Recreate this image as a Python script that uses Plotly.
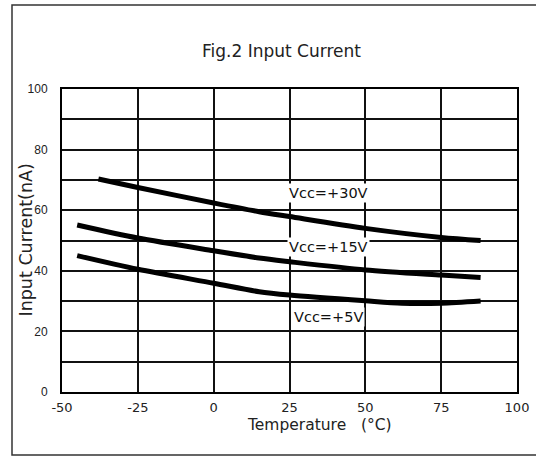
import plotly.graph_objects as go

# Data
temp_30 = [-38, -25, 0, 15, 25, 50, 75, 88]
cur_30 = [70.3, 67.5, 62.4, 59.5, 57.9, 54.0, 51.0, 50.0]

temp_15 = [-45, -25, 0, 15, 25, 50, 75, 88]
cur_15 = [55.1, 50.8, 46.6, 44.2, 43.0, 40.3, 38.6, 37.8]

temp_5 = [-45, -25, 0, 15, 25, 50, 62, 75, 88]
cur_5 = [45.0, 40.5, 35.9, 33.1, 32.0, 30.1, 29.3, 29.3, 30.0]

series = [
    ("Vcc=+30V", temp_30, cur_30, 37.7, 65.7),
    ("Vcc=+15V", temp_15, cur_15, 38.0, 47.7),
    ("Vcc=+5V", temp_5, cur_5, 37.7, 24.8),
]

x_ticks = [-50, -25, 0, 25, 50, 75, 100]
y_ticks = [0, 20, 40, 60, 80, 100]

SANS = "Liberation Sans, Arial, sans-serif"
WIDE = "DejaVu Sans, Verdana, sans-serif"

fig = go.Figure()
for name, xs, ys, lx, ly in series:
    fig.add_trace(go.Scatter(
        x=xs, y=ys, mode="lines", name=name,
        line=dict(color="black", width=5, shape="spline", smoothing=0.8),
        showlegend=False, hoverinfo="skip",
    ))
    fig.add_annotation(
        x=lx, y=ly, xref="x", yref="y", text=name, showarrow=False,
        xanchor="center", yanchor="middle",
        font=dict(family=WIDE, size=14.5, color="#111"),
        bgcolor="white",
    )

W, H = 536, 457
L, R, T, B = 62, 19, 89, 65
pw, ph = W - L - R, H - T - B

def px_to_paper_x(px):
    return (px - L) / pw

def px_to_paper_y(py):
    return (H - B - py) / ph

# outer frame
fig.add_shape(type="rect", xref="paper", yref="paper",
              x0=px_to_paper_x(12), x1=px_to_paper_x(545),
              y0=px_to_paper_y(455), y1=px_to_paper_y(5),
              line=dict(color="#333", width=1.5), layer="below")

fig.add_annotation(
    x=px_to_paper_x(281), y=px_to_paper_y(51), xref="paper", yref="paper",
    xanchor="center", yanchor="middle",
    text="Fig.2 Input Current", showarrow=False,
    font=dict(family=WIDE, size=17, color="#222"),
)
fig.add_annotation(
    x=px_to_paper_x(25), y=0.5, xref="paper", yref="paper",
    xanchor="center", yanchor="middle",
    text="Input Current(nA)", showarrow=False, textangle=-90,
    font=dict(family=WIDE, size=17.5, color="#222"),
)
fig.add_annotation(
    x=px_to_paper_x(319), y=px_to_paper_y(425), xref="paper", yref="paper",
    xanchor="center", yanchor="middle",
    text="Temperature &nbsp;&nbsp;(°C)", showarrow=False,
    font=dict(family=WIDE, size=15.5, color="#222"),
)

fig.update_xaxes(
    range=[-50, 100], tickvals=x_ticks, ticktext=[str(v) for v in x_ticks],
    showgrid=True, gridcolor="#111", gridwidth=1.5,
    showline=True, linecolor="black", linewidth=2, mirror=True,
    zeroline=False, ticks="", ticklabelstandoff=2,
    tickfont=dict(family=WIDE, size=13, color="#222"),
    fixedrange=True,
)
fig.update_yaxes(
    range=[0, 100], tickvals=y_ticks, ticktext=[str(v) for v in y_ticks],
    showgrid=True, gridcolor="#111", gridwidth=1.5,
    showline=True, linecolor="black", linewidth=2, mirror=True,
    zeroline=False, ticks="", ticklabelstandoff=10,
    tickfont=dict(family=SANS, size=12, color="#222"),
    minor=dict(dtick=10, tick0=0, showgrid=True, gridcolor="#111", gridwidth=1.5),
    fixedrange=True,
)

fig.update_layout(
    width=W, height=H,
    margin=dict(l=L, r=R, t=T, b=B, autoexpand=False),
    paper_bgcolor="white", plot_bgcolor="white",
    showlegend=False,
)

fig.write_html("out.html", config={"displayModeBar": False},
               post_script="document.body.style.margin='0';")
